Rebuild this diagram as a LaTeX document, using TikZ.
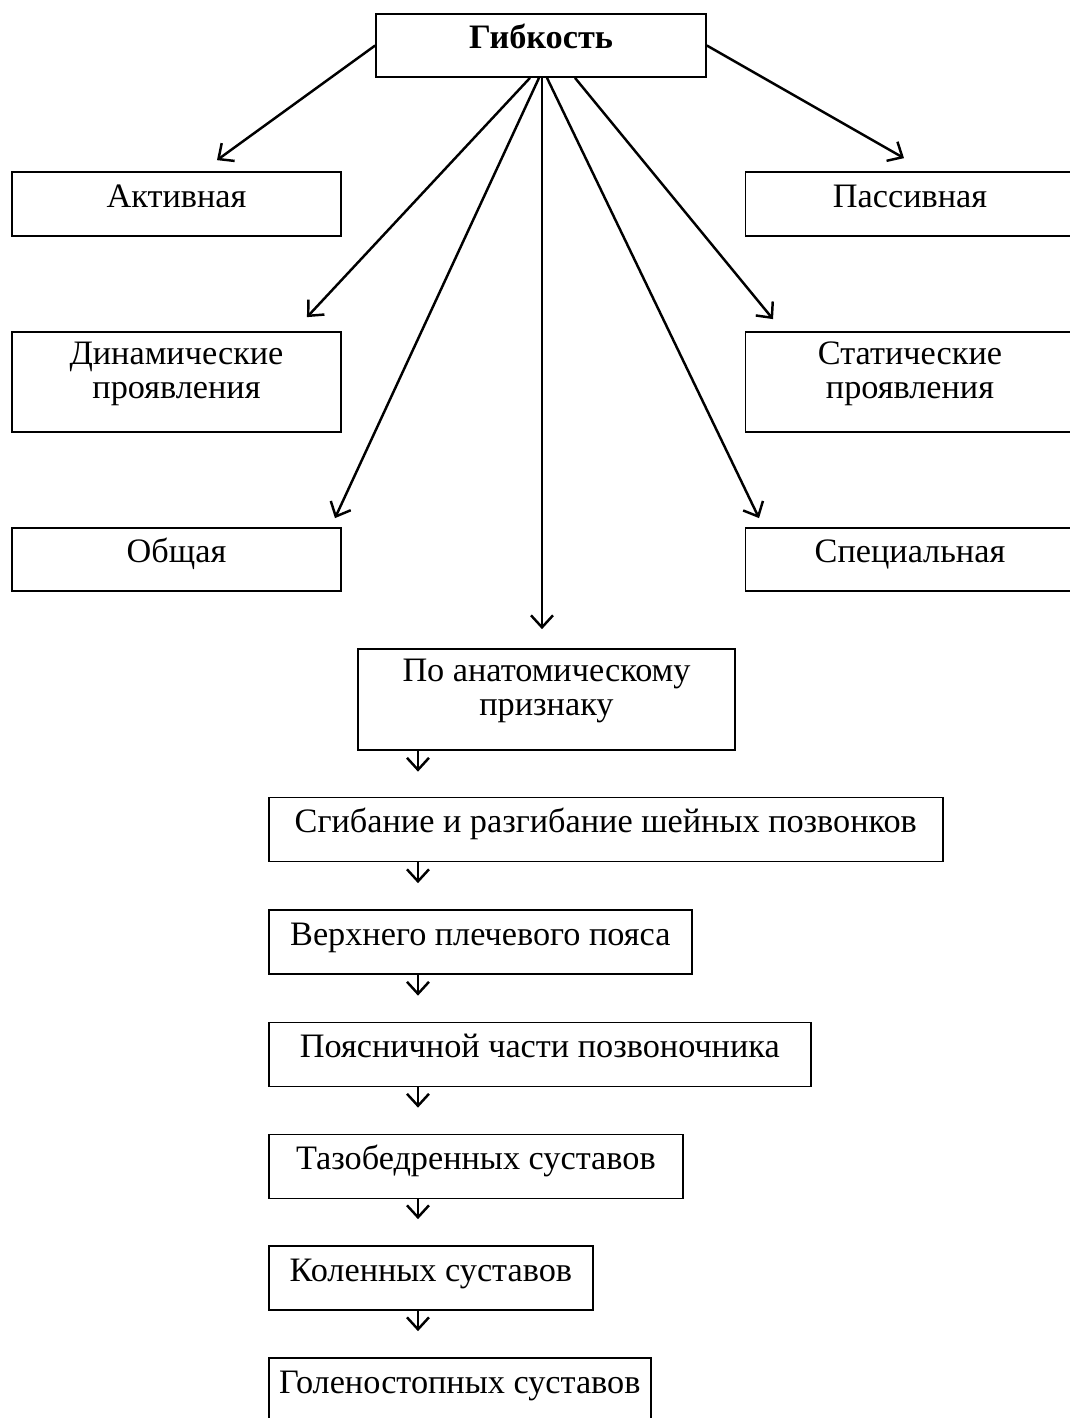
\documentclass[tikz,border=0pt]{standalone}
\usepackage{fontspec}
\setmainfont{Liberation Serif}
\usetikzlibrary{arrows.meta}

\newcommand{\boxfont}{\fontsize{19.5pt}{19.3pt}\selectfont}

\tikzset{
  box/.style={draw, line width=1pt, inner sep=0pt, font=\boxfont,
    text height=0.42cm, text depth=0.3cm},
  twobox/.style={box, align=center, text height=1.2cm, text depth=0.56cm},
  side/.style={minimum width=6.58cm},
  part/.style={box, anchor=west, minimum height=1.28cm},
  arr/.style={-{Straight Barb[length=0.24cm,width=0.44cm]}, line width=1.4pt},
}

\begin{document}
\begin{tikzpicture}[x=0.02cm, y=-0.02cm]
        \useasboundingbox (0,0) rectangle (1070,1418);
        \clip (0,0) rectangle (1070,1418);

        \node[box, font=\boxfont\bfseries, minimum width=6.6cm, minimum height=1.26cm] (G) at (541,45.5) {Гибкость};

        \node[box, side, minimum height=1.28cm] (A) at (176.5,204) {Активная};
        \node[box, side, minimum height=1.28cm] (P) at (910,204) {Пассивная};
        \node[twobox, side, minimum height=2cm] (D) at (176.5,382) {Динамические\\проявления};
        \node[twobox, side, minimum height=2cm] (S) at (910,382) {Статические\\проявления};
        \node[box, side, minimum height=1.26cm] (O) at (176.5,559.5) {Общая};
        \node[box, side, minimum height=1.26cm] (Sp) at (910,559.5) {Специальная};

        \node[twobox, minimum width=7.54cm, minimum height=2.02cm] (An) at (546.5,699.5) {По анатомическому\\признаку};

        \node[part, minimum width=13.48cm] (b1) at (268,829.5) {Сгибание и разгибание шейных позвонков};
        \node[part, minimum width=8.46cm] (b2) at (268,942) {Верхнего плечевого пояса};
        \node[part, minimum width=10.84cm] (b3) at (268,1054.5) {Поясничной части позвоночника};
        \node[part, minimum width=8.28cm] (b4) at (268,1166.5) {Тазобедренных суставов};
        \node[part, minimum width=6.48cm] (b5) at (268,1278) {Коленных суставов};
        \node[part, minimum width=7.64cm] (b6) at (268,1390) {Голеностопных суставов};

        \draw[arr] (G.west) -- ([xshift=0.81cm, yshift=0.22cm]A.north);
        \draw[arr] (G.east) -- ([xshift=-0.12cm, yshift=0.26cm]P.north);
        \draw[arr] ([xshift=-0.22cm]G.south) -- ([xshift=2.61cm, yshift=0.28cm]D.north);
        \draw[arr] ([xshift=0.68cm]G.south) -- ([xshift=-2.74cm, yshift=0.24cm]S.north);
        \draw[arr] ([xshift=-0.04cm]G.south) -- ([xshift=3.17cm, yshift=0.18cm]O.north);
        \draw[arr] ([xshift=0.12cm]G.south) -- ([xshift=-3.02cm, yshift=0.18cm]Sp.north);
        \draw[arr] ([xshift=-0.09cm]An.north |- G.south) -- ([xshift=-0.09cm, yshift=0.38cm]An.north);

        \draw[arr, shorten >=0.5cm] ([xshift=3cm]b1.north west |- An.south) -- ([xshift=3cm]b1.north west);
        \draw[arr, shorten >=0.52cm] ([xshift=3cm]b1.south west) -- ([xshift=3cm]b2.north west);
        \draw[arr, shorten >=0.52cm] ([xshift=3cm]b2.south west) -- ([xshift=3cm]b3.north west);
        \draw[arr, shorten >=0.52cm] ([xshift=3cm]b3.south west) -- ([xshift=3cm]b4.north west);
        \draw[arr, shorten >=0.52cm] ([xshift=3cm]b4.south west) -- ([xshift=3cm]b5.north west);
        \draw[arr, shorten >=0.52cm] ([xshift=3cm]b5.south west) -- ([xshift=3cm]b6.north west);
\end{tikzpicture}
\end{document}
